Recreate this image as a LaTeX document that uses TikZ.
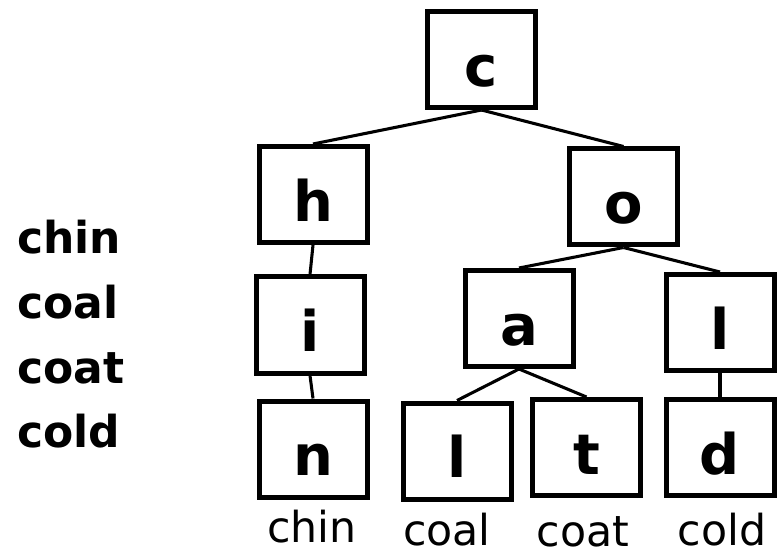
\documentclass[tikz,border=0pt]{standalone}
\usepackage{fontspec}
\setmainfont{DejaVu Sans}
\usetikzlibrary{positioning}

\begin{document}
\begin{tikzpicture}[
  x=0.75pt, y=-0.75pt,
  letterbox/.style={draw, line width=3.75pt, minimum width=81pt, minimum height=72pt,
    inner sep=0pt, text height=56pt, text depth=16pt,
    font=\fontsize{42}{48}\selectfont\bfseries},
  wordlist/.style={anchor=base west, inner sep=0pt, font=\fontsize{33}{38}\selectfont\bfseries},
  leafword/.style={anchor=base, inner sep=0pt, text depth=0pt, font=\fontsize{32}{36}\selectfont},
  edge/.style={line width=2.3pt},
]
  \useasboundingbox (0,0) rectangle (778,552);
  % trie nodes
  \node[letterbox] (c) at (481.5,59.5) {c};
  \node[letterbox] (h) at (313,194.5) {h};
  \node[letterbox] (o) at (623.5,197) {o};
  \node[letterbox] (i) at (310,325) {i};
  \node[letterbox] (a) at (519,318.5) {a};
  \node[letterbox] (l) at (720,322.5) {l};
  \node[letterbox] (n) at (313,449) {n};
  \node[letterbox] (al) at (457,451) {l};
  \node[letterbox] (at) at (586.5,447.5) {t};
  \node[letterbox] (ld) at (720,447.5) {d};
  % edges
  \draw[edge] (c.south) -- (h.north);
  \draw[edge] (c.south) -- (o.north);
  \draw[edge] (h.south) -- (i.north);
  \draw[edge] (i.south) -- (n.north);
  \draw[edge] (o.south) -- (a.north);
  \draw[edge] (o.south) -- (l.north);
  \draw[edge] (a.south) -- (al.north);
  \draw[edge] (a.south) -- (at.north);
  \draw[edge] (l.south) -- (ld.north);
  % words at the leaves
  \node[leafword] (wchin) at (312,542) {chin};
  \node[leafword] (wcoal) at (447,545) {coal};
  \node[leafword] (wcoat) at (583,546) {coat};
  \node[leafword] (wcold) at (722,545) {cold};
  % word list
  \node[wordlist] (lchin) at (17,254) {chin};
  \node[wordlist] (lcoal) at (17,319) {coal};
  \node[wordlist] (lcoat) at (17,383) {coat};
  \node[wordlist] (lcold) at (17,447) {cold};
\end{tikzpicture}
\end{document}
